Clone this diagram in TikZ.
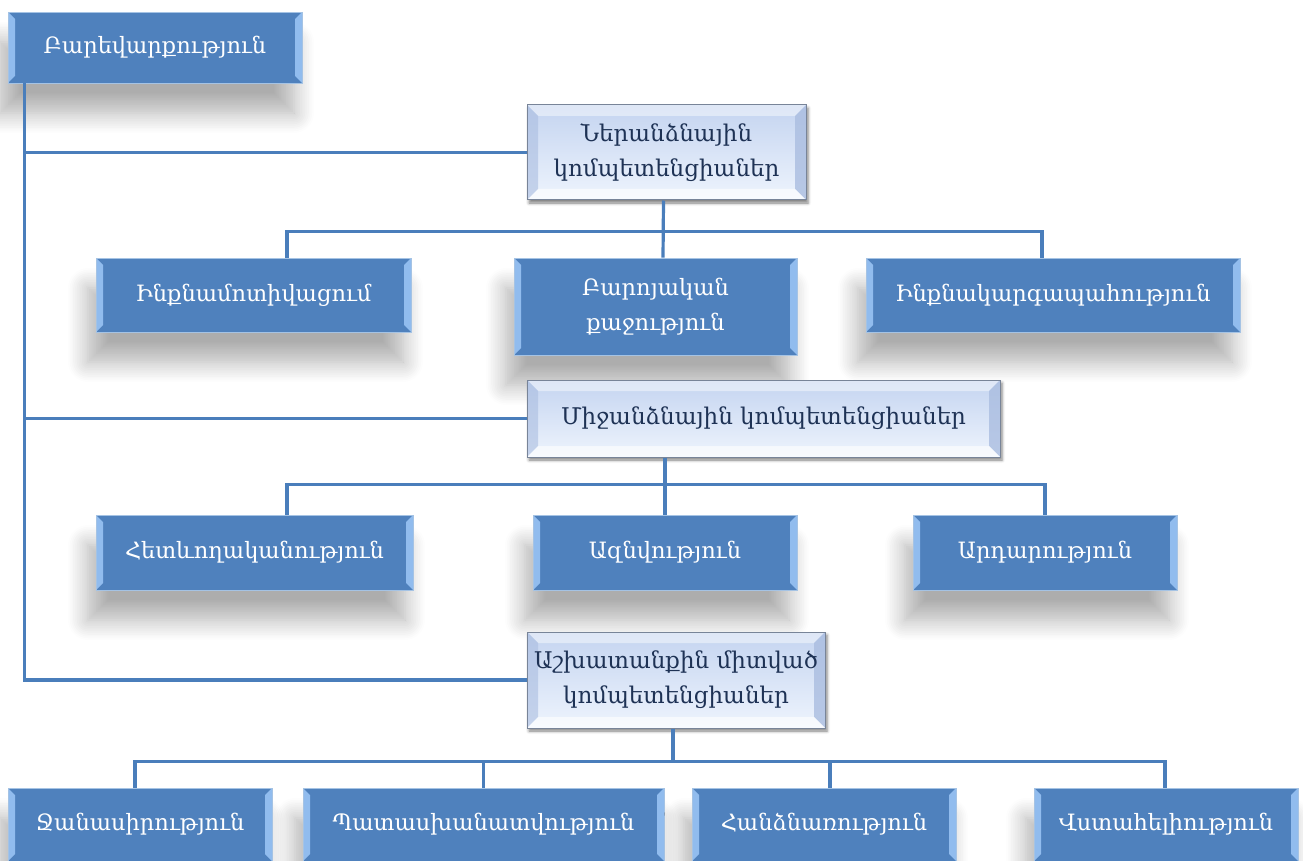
\documentclass[tikz,border=0pt]{standalone}
\usepackage{fontspec}
\setmainfont{DejaVu Serif}
\usepackage{tikz}
\usetikzlibrary{shadows.blur,calc}
\definecolor{boxblue}{RGB}{79,129,189}
\definecolor{bevelblue}{RGB}{145,188,238}
\definecolor{edgeblue}{RGB}{165,195,228}
\definecolor{linkblue}{RGB}{74,126,187}
\definecolor{paletop}{RGB}{196,212,240}
\definecolor{palebottom}{RGB}{238,244,253}
\definecolor{paleside}{RGB}{170,189,224}
\definecolor{paleedge}{RGB}{120,132,152}
\definecolor{navytext}{RGB}{30,50,85}
\tikzset{
  skill/.style={rectangle, draw=edgeblue, line width=0.8pt, fill=boxblue, text=white, align=center, inner sep=0pt,
    font=\fontsize{22.5}{35}\selectfont,
    blur shadow={shadow xshift=-8pt, shadow yshift=-30pt, shadow blur radius=20pt, shadow blur steps=12, shadow opacity=32},
    path picture={
      \fill[bevelblue] (path picture bounding box.south west) -- (path picture bounding box.north west)
        -- ([shift={(7pt,-7pt)}]path picture bounding box.north west) -- ([shift={(7pt,7pt)}]path picture bounding box.south west) -- cycle;
      \fill[bevelblue] (path picture bounding box.south east) -- (path picture bounding box.north east)
        -- ([shift={(-7pt,-7pt)}]path picture bounding box.north east) -- ([shift={(-7pt,7pt)}]path picture bounding box.south east) -- cycle;
    }},
  group/.style={rectangle, draw=paleedge, line width=1pt, top color=paletop, bottom color=palebottom, text=navytext, align=center, inner sep=0pt,
    font=\fontsize{23}{35}\selectfont,
    blur shadow={shadow xshift=2pt, shadow yshift=-3pt, shadow blur radius=3pt, shadow opacity=50},
    path picture={
      \fill[white, opacity=.45] (path picture bounding box.north west) -- (path picture bounding box.north east)
        -- ([shift={(-11pt,-11pt)}]path picture bounding box.north east) -- ([shift={(11pt,-11pt)}]path picture bounding box.north west) -- cycle;
      \fill[paleside, opacity=.6] (path picture bounding box.north west) -- (path picture bounding box.south west)
        -- ([shift={(11pt,11pt)}]path picture bounding box.south west) -- ([shift={(11pt,-11pt)}]path picture bounding box.north west) -- cycle;
      \fill[paleside, opacity=.8] (path picture bounding box.north east) -- (path picture bounding box.south east)
        -- ([shift={(-11pt,11pt)}]path picture bounding box.south east) -- ([shift={(-11pt,-11pt)}]path picture bounding box.north east) -- cycle;
      \fill[white, opacity=.6] (path picture bounding box.south west) -- (path picture bounding box.south east)
        -- ([shift={(-11pt,11pt)}]path picture bounding box.south east) -- ([shift={(11pt,11pt)}]path picture bounding box.south west) -- cycle;
    }},
  link/.style={draw=linkblue, line width=3.2pt}
}
\begin{document}
\begin{tikzpicture}[x=1pt, y=-1pt]
\useasboundingbox (0,0) rectangle (1303,861);
% root
\node[skill, minimum width=294pt, minimum height=71pt] (bar) at (155,47.5) {Բարեվարքություն};
% first group and its row
\node[group, minimum width=279pt, minimum height=95pt] (ner) at (666.5,152.5) {Ներանձնային\\կոմպետենցիաներ};
\node[skill, minimum width=315pt, minimum height=74pt] (inq) at (253.5,295) {Ինքնամոտիվացում};
\node[skill, minimum width=283pt, minimum height=97pt] (baro) at (655.5,306.5) {Բարոյական\\քաջություն};
\node[skill, minimum width=374pt, minimum height=74pt] (kar) at (1053,295) {Ինքնակարգապահություն};
% second group and its row
\node[group, minimum width=473pt, minimum height=77pt] (mij) at (763.5,418.5) {Միջանձնային կոմպետենցիաներ};
\node[skill, minimum width=317pt, minimum height=75pt] (het) at (254.5,552.5) {Հետևողականություն};
\node[skill, minimum width=264pt, minimum height=75pt] (azn) at (665,552.5) {Ազնվություն};
\node[skill, minimum width=264pt, minimum height=75pt] (ard) at (1045,552.5) {Արդարություն};
% third group and its row
\node[group, minimum width=298pt, minimum height=96pt] (ash) at (676,680) {Աշխատանքին միտված\\կոմպետենցիաներ};
\node[skill, minimum width=264pt, minimum height=73pt] (jan) at (140,824.5) {Ջանասիրություն};
\node[skill, minimum width=361pt, minimum height=73pt] (pat) at (483.5,824.5) {Պատասխանատվություն};
\node[skill, minimum width=264pt, minimum height=73pt] (han) at (824,824.5) {Հանձնառություն};
\node[skill, minimum width=264pt, minimum height=73pt] (vst) at (1166,824.5) {Վստահելիություն};
% trunk
\draw[link] ([xshift=17pt]bar.south west) |- (ner.west);
\draw[link] ([xshift=17pt]bar.south west) |- (mij.west);
\draw[link] ([xshift=17pt]bar.south west) |- (ash.west);
% branches
\draw[link] ([xshift=-3pt]ner.south) -- ([xshift=7.5pt]baro.north);
\draw[link] ([xshift=33.5pt]inq.north) |- ([yshift=26pt]baro.north) -| ([xshift=-11pt]kar.north);
\draw[link] (azn.north |- mij.south) -- (azn.north);
\draw[link] ([xshift=32.5pt]het.north) |- ([yshift=30pt]azn.north) -| (ard.north);
\draw[link] ([xshift=-3pt]ash.south) -- ++(0,34);
\draw[link] ([xshift=-5pt]jan.north) |- ([xshift=-3pt, yshift=26pt]ash.south |- pat.north) -| ([xshift=-1pt]vst.north);
\draw[link] ([yshift=26pt]pat.north) -- (pat.north);
\draw[link] ([xshift=6pt, yshift=26pt]han.north) -- ([xshift=6pt]han.north);
\end{tikzpicture}
\end{document}
